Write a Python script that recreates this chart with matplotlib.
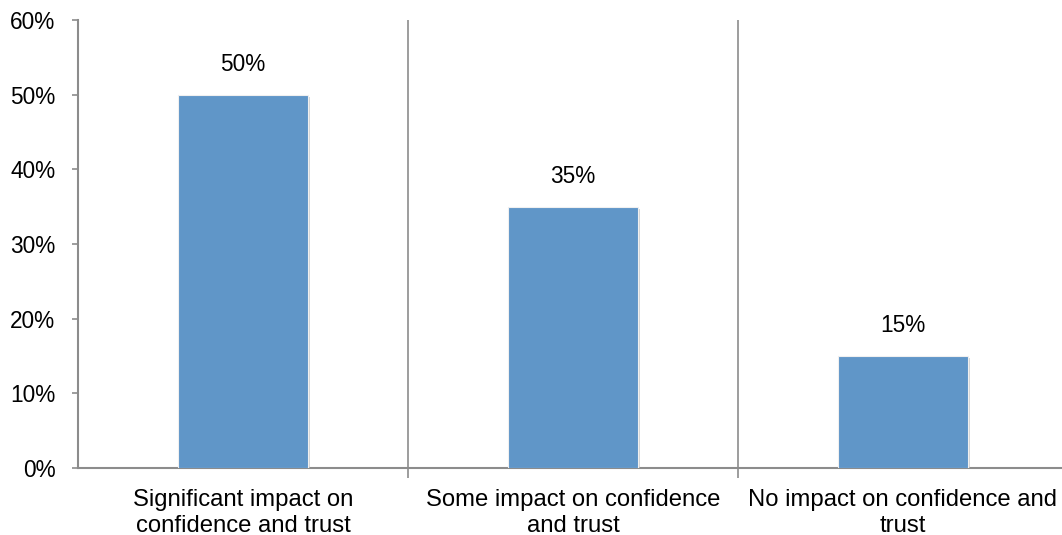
import matplotlib
matplotlib.use("Agg")
import matplotlib.pyplot as plt
import matplotlib.patheffects as pe

categories = ["Significant impact on\nconfidence and trust",
              "Some impact on confidence\nand trust",
              "No impact on confidence and\ntrust"]
values = [50, 35, 15]
value_labels = ["50%", "35%", "15%"]
yticks = [0, 10, 20, 30, 40, 50, 60]
ytick_labels = ["0%", "10%", "20%", "30%", "40%", "50%", "60%"]

plt.rcParams['font.family'] = ['Liberation Sans', 'DejaVu Sans']

fig = plt.figure(figsize=(10.62, 5.35), dpi=100)
W, H = 1062, 535
left, right, top, bottom = 78, 1068, 20, 468
ax = fig.add_axes([left / W, 1 - bottom / H, (right - left) / W, (bottom - top) / H])

gray = "#8c8c8c"
fs = 16.3
xs = list(range(len(values)))
bars = ax.bar(xs, values, width=130 / 330, color="#6096c8", edgecolor="#f0f0f0",
              linewidth=0.8, zorder=3)
for b in bars:
    b.set_path_effects([pe.SimplePatchShadow(offset=(1.5, -1.5), shadow_rgbFace="#bbbbbb", alpha=0.6),
                        pe.Normal()])

for x, v, lab in zip(xs, values, value_labels):
    ax.annotate(lab, (x, v), xytext=(0, 19), textcoords="offset pixels",
                ha="center", va="bottom", fontsize=fs, color="#000000")

ax.set_xlim(-0.5, 2.5)
ax.set_ylim(0, 60)
ax.set_yticks(yticks)
ax.set_yticklabels(ytick_labels, fontsize=fs)
ax.set_xticks([0.5, 1.5], minor=False)
ax.set_xticklabels([])
ax.set_xticks(xs, minor=True)
ax.set_xticklabels(categories, minor=True, fontsize=17.2, linespacing=1.22)
ax.tick_params(axis="x", which="minor", length=0, pad=15)
ax.tick_params(axis="x", which="major", length=7, color=gray, width=1.2, direction="out")
ax.tick_params(axis="y", length=4.3, color=gray, width=1.2, direction="out", pad=12)

for x in [0.5, 1.5]:
    ax.axvline(x, color=gray, linewidth=1.2, zorder=1)

for s in ["top", "right"]:
    ax.spines[s].set_visible(False)
for s in ["left", "bottom"]:
    ax.spines[s].set_color(gray)
    ax.spines[s].set_linewidth(1.5)

fig.savefig("out.png", dpi=100)
